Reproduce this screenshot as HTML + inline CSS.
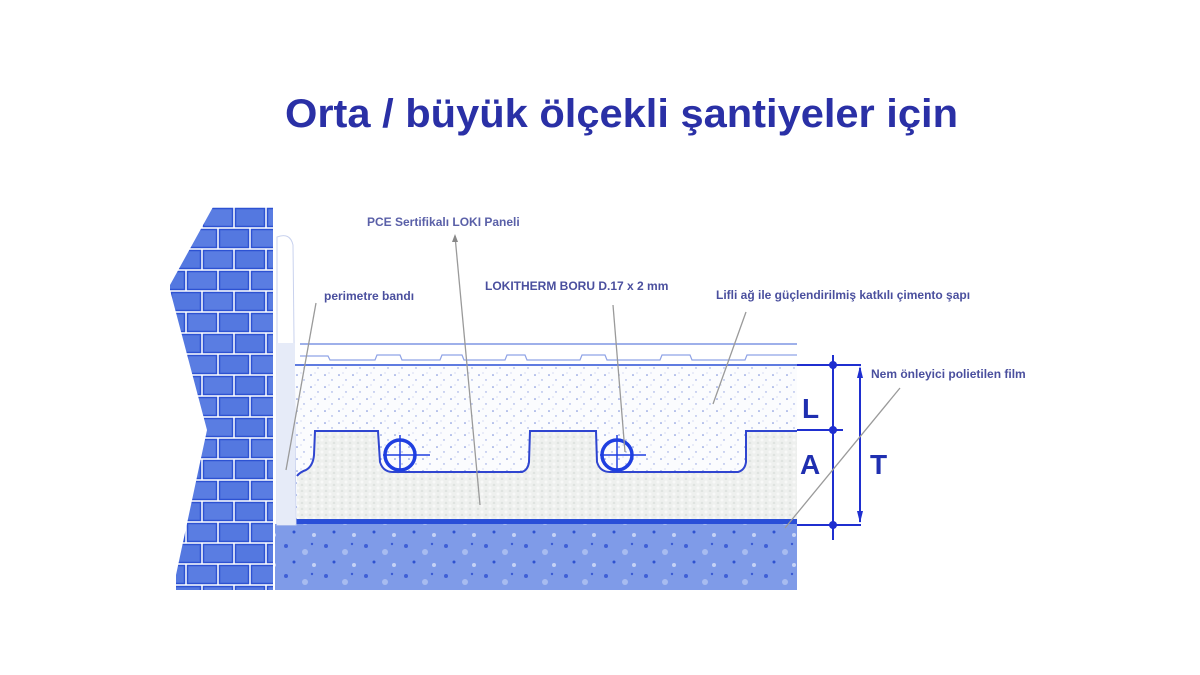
<!DOCTYPE html>
<html><head><meta charset="utf-8"><style>
html,body{margin:0;padding:0;background:#fff;}
svg{display:block;}
text{font-family:"Liberation Sans",Arial,sans-serif;font-weight:bold;}
</style></head><body>
<svg width="1200" height="675" viewBox="0 0 1200 675" xmlns="http://www.w3.org/2000/svg">
<defs>
<pattern id="brick" x="170" y="207" width="64" height="42" patternUnits="userSpaceOnUse">
<rect width="64" height="42" fill="#fff"/>
<rect x="1.5" y="1.5" width="29" height="18" fill="#5478e0" stroke="#2d52d2" stroke-width="1.5"/>
<rect x="33.5" y="1.5" width="29" height="18" fill="#5a7de2" stroke="#2d52d2" stroke-width="1.5"/>
<rect x="-14.5" y="22.5" width="29" height="18" fill="#5478e0" stroke="#2d52d2" stroke-width="1.5"/>
<rect x="17.5" y="22.5" width="29" height="18" fill="#5a7de2" stroke="#2d52d2" stroke-width="1.5"/>
<rect x="49.5" y="22.5" width="29" height="18" fill="#5478e0" stroke="#2d52d2" stroke-width="1.5"/>
</pattern>
<pattern id="dots" width="14" height="12" patternUnits="userSpaceOnUse">
<rect width="14" height="12" fill="#fbfcfe"/>
<circle cx="3" cy="3" r="0.8" fill="#6f86d8"/>
<circle cx="10" cy="8" r="0.7" fill="#8a9de0"/>
<circle cx="7" cy="1" r="0.5" fill="#9aaae2"/>
</pattern>
<pattern id="eps" width="8" height="6" patternUnits="userSpaceOnUse">
<rect width="8" height="6" fill="#eef0ee"/>
<circle cx="2" cy="2" r="1.5" fill="#f8f9f8"/>
<circle cx="6" cy="5" r="1.3" fill="#dfe3e0"/>
</pattern>
<pattern id="conc" width="40" height="30" patternUnits="userSpaceOnUse">
<rect width="40" height="30" fill="#7f9be8"/>
<circle cx="6" cy="6" r="2" fill="#3f5fd6"/>
<circle cx="25" cy="12" r="3" fill="#a8bcf0"/>
<circle cx="14" cy="22" r="1.5" fill="#2f52d0"/>
<circle cx="34" cy="25" r="2" fill="#c5d2f5"/>
<circle cx="32" cy="4" r="1.2" fill="#3a5ad4"/>
</pattern>
</defs>

<text x="285" y="127" font-size="40" fill="#2a30a6" textLength="673" lengthAdjust="spacingAndGlyphs">Orta / büyük ölçekli şantiyeler için</text>

<!-- wall -->
<polygon points="213,207 273,207 273,590 176,590 176,575 207,430 170,290 170,285" fill="url(#brick)"/>

<!-- concrete -->
<rect x="275" y="524" width="522" height="66" fill="url(#conc)"/>
<!-- screed -->
<rect x="295" y="365" width="502" height="155" fill="url(#dots)"/>
<!-- EPS panel -->
<path d="M297,520 L297,476 Q300,472 306,470 Q313,466 314,455 L315,431 L378,431 L380,462 Q383,472 393,472 L522,472 Q528,470 529,462 L530,431 L596,431 L597,462 Q600,472 610,472 L738,472 Q745,470 746,462 L746,431 L797,431 L797,520 Z" fill="url(#eps)"/>
<path d="M297,476 Q300,472 306,470 Q313,466 314,455 L315,431 L378,431 L380,462 Q383,472 393,472 L522,472 Q528,470 529,462 L530,431 L596,431 L597,462 Q600,472 610,472 L738,472 Q745,470 746,462 L746,431 L797,431" fill="none" stroke="#2f45d0" stroke-width="2"/>
<!-- top panel lines -->
<line x1="300" y1="344" x2="797" y2="344" stroke="#7f96e4" stroke-width="1.5"/>
<line x1="295" y1="365" x2="797" y2="365" stroke="#5f7be0" stroke-width="2"/>
<path d="M300,356 L328,356 L330,360 L375,360 L377,355 L400,355 L402,360 L440,360 L442,355 L462,355 L464,360 L505,360 L507,355 L525,355 L527,360 L580,360 L582,355 L605,355 L607,360 L660,360 L662,355 L690,355 L692,360 L745,360 L747,355 L797,355" fill="none" stroke="#8fa3e6" stroke-width="1.2"/>
<!-- blue film line -->
<rect x="295" y="519" width="502" height="5" fill="#2a4fd8"/>
<!-- perimeter band -->
<path d="M277,237 Q290,232 293,245 L296,525 L277,525 Z" fill="#fff" stroke="#c9d2ee" stroke-width="1"/>
<rect x="277" y="343" width="18" height="182" fill="#e6ebf8"/>
<!-- pipes -->
<g fill="none" stroke="#1f3fe0" stroke-width="3.5">
<circle cx="400" cy="455" r="15"/><circle cx="617" cy="455" r="15"/>
</g>
<g stroke="#1f3fe0" stroke-width="1.5">
<line x1="400" y1="435" x2="400" y2="472"/><line x1="383" y1="455" x2="430" y2="455"/>
<line x1="617" y1="435" x2="617" y2="472"/><line x1="600" y1="455" x2="646" y2="455"/>
</g>
<!-- dimensions -->
<g stroke="#1f2fd0" stroke-width="2" fill="none">
<line x1="797" y1="365" x2="861" y2="365"/>
<line x1="797" y1="430" x2="843" y2="430"/>
<line x1="797" y1="525" x2="861" y2="525"/>
<line x1="833" y1="355" x2="833" y2="540"/>
<line x1="860" y1="368" x2="860" y2="522"/>
</g>
<g fill="#1f2fd0">
<circle cx="833" cy="365" r="4"/><circle cx="833" cy="430" r="4"/><circle cx="833" cy="525" r="4"/>
<path d="M857,378 L860,366 L863,378 Z"/><path d="M857,511 L860,523 L863,511 Z"/>
</g>
<text x="802" y="418" font-size="28" fill="#1f2fb0">L</text>
<text x="800" y="474" font-size="28" fill="#1f2fb0">A</text>
<text x="870" y="474" font-size="28" fill="#1f2fb0">T</text>
<!-- leaders -->
<g stroke="#9a9a9a" stroke-width="1.3">
<line x1="316" y1="303" x2="286" y2="470"/>
<line x1="455" y1="236" x2="480" y2="505"/>
<line x1="613" y1="305" x2="625" y2="452"/>
<line x1="746" y1="312" x2="713" y2="404"/>
<line x1="900" y1="388" x2="785" y2="528"/>
</g>
<path d="M452,242 L455,234 L458,242 Z" fill="#888"/>
<!-- labels -->
<g font-size="12" fill="#4a4f9e">
<text x="324" y="300">perimetre bandı</text>
<text x="367" y="226" fill="#5a60a8" font-weight="normal">PCE Sertifikalı LOKI Paneli</text>
<text x="485" y="290">LOKITHERM BORU D.17 x 2 mm</text>
<text x="716" y="299">Lifli ağ ile güçlendirilmiş katkılı çimento şapı</text>
<text x="871" y="378">Nem önleyici polietilen film</text>
</g>
</svg>
</body></html>
